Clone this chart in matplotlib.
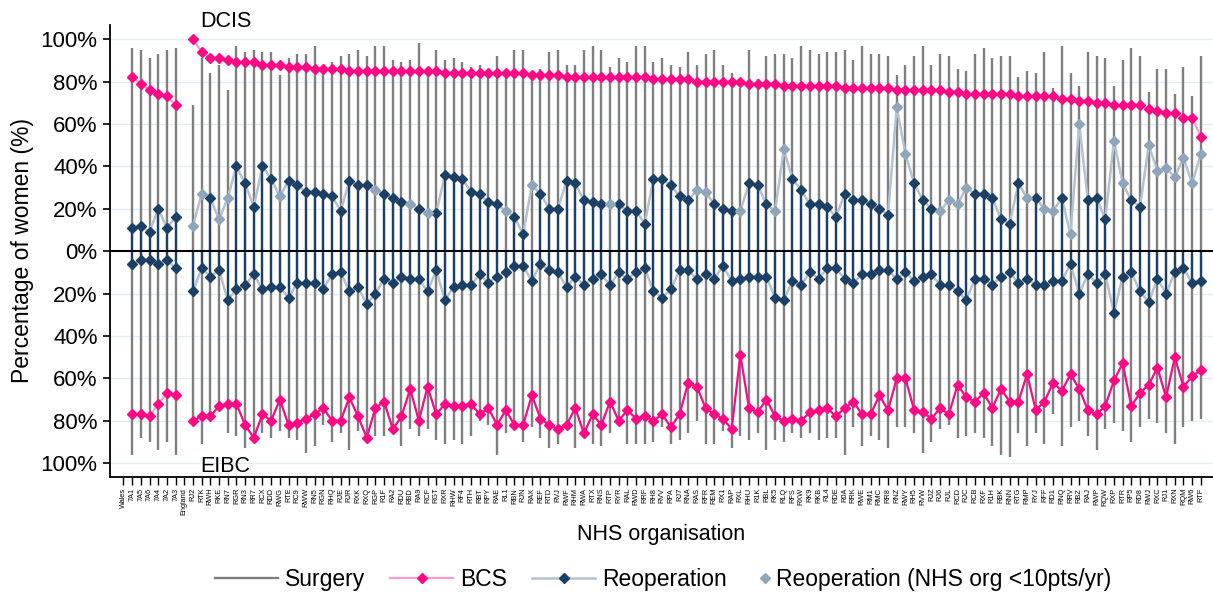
import numpy as np
import matplotlib
matplotlib.use("Agg")
import matplotlib.pyplot as plt
from matplotlib.lines import Line2D
from matplotlib.ticker import FuncFormatter

plt.rcParams['font.family'] = ['Liberation Sans', 'DejaVu Sans']

# x axis: header rows "Wales" / "England" carry no data
wales_orgs = ["7A1", "7A5", "7A6", "7A4", "7A2", "7A3"]
eng_orgs = ["RJ2", "RTK", "RWH", "RKE", "RN7", "RGR", "RN3", "RR7", "RCX", "RDD", "RWG", "RTE", "RC9",
            "RWW", "RN5", "RGN", "RHQ", "RJE", "RJR", "RXK", "RXQ", "RGP", "R1F", "RA2", "RDU", "RBD",
            "RA9", "RCF", "RGT", "RXR", "RHW", "RF4", "RTH", "RBT", "RPY", "RAE", "RL1", "RBN", "RJN",
            "RAX", "REF", "RTD", "RVJ", "RWF", "RHM", "RWA", "RTX", "RNS", "RTP", "RYR", "RAL", "RWD",
            "RRF", "RH8", "RVV", "RPA", "RJ7", "RNA", "RAS", "RFR", "REM", "RX1", "RAP", "RXL", "RHU",
            "R1K", "RBL", "RK5", "RLQ", "RFS", "RXW", "RK9", "RKB", "RL4", "RDE", "R0A", "RRK", "RWE",
            "RM1", "RMC", "RR8", "RNZ", "RWY", "RH5", "RVW", "RJZ", "RJ6", "RJL", "RCD", "RJC", "RCB",
            "RXF", "R1H", "RBK", "RNN", "RTG", "RMP", "RYJ", "RFF", "RD1", "RNQ", "RRV", "RBZ", "RAJ",
            "RWP", "RQW", "RXP", "RTR", "RP5", "RD8", "RWJ", "RXC", "RJ1", "RXN", "RQM", "RW6", "RTF"]

# ---- DCIS (upper half) ----
wales_surg_dcis = [96, 95, 91, 93, 95, 96]
wales_bcs_dcis = [82, 79, 76, 74, 73, 69]
wales_reop_dcis = [11, 12, 9, 20, 11, 16]

eng_surg_dcis = [69, 91, 84, 88, 76, 97, 94, 95, 94, 94, 83, 91, 93,
                 93, 97, 87, 89, 92, 93, 95, 92, 97, 97, 90, 89, 90, 98, 87, 95, 90, 91, 89, 87, 88,
                 86, 92, 85, 95, 95, 83, 86, 94, 95, 88, 88, 95, 97, 95, 87, 91, 89, 97, 97, 89, 91,
                 88, 87, 94, 88, 93, 95, 88, 84, 77, 95, 81, 92, 93, 93, 91, 97, 95, 93, 94, 94, 95,
                 90, 97, 93, 93, 92, 83, 88, 92, 97, 88, 93, 92, 86, 85, 93, 96, 91, 92, 92, 82,
                 85, 84, 94, 77, 97, 84, 78, 94, 92, 91, 78, 90, 96, 92, 75, 86, 86, 74, 87, 73, 92]
eng_bcs_dcis = [100, 94, 91, 91, 90, 89, 89, 89, 88, 88, 88, 87, 87,
                87, 86, 86, 86, 86, 85, 85, 85, 85, 85, 85, 85, 85, 85, 85, 85, 84, 84, 84, 84, 84,
                84, 84, 84, 84, 84, 83, 83, 83, 83, 82, 82, 82, 82, 82, 82, 82, 82, 82, 82, 81, 81,
                81, 81, 81, 80, 80, 80, 80, 80, 80, 79, 79, 79, 79, 78, 78, 78, 78, 78, 78, 78, 77,
                77, 77, 77, 77, 77, 76, 76, 76, 76, 76, 76, 75, 75, 74, 74, 74, 74, 74, 74, 73,
                73, 73, 73, 73, 72, 72, 71, 71, 70, 70, 69, 69, 69, 69, 67, 66, 65, 65, 63, 63, 54]
eng_reop_dcis = [12, 27, 25, 15, 25, 40, 32, 21, 40, 34, 26, 33, 31,
                 28, 28, 27, 26, 19, 33, 31, 31, 29, 27, 25, 23, 22, 20, 18, 18, 36, 35, 34, 28, 27,
                 23, 22, 19, 16, 8, 31, 27, 20, 20, 33, 32, 24, 23, 22, 22, 22, 19, 19, 13, 34, 34,
                 31, 26, 24, 29, 28, 22, 20, 19, 19, 32, 31, 22, 19, 48, 34, 29, 22, 22, 21, 16, 27,
                 24, 24, 22, 20, 17, 68, 46, 32, 24, 20, 19, 24, 22, 30, 27, 27, 25, 15, 13, 32,
                 25, 25, 20, 19, 25, 8, 60, 24, 25, 15, 52, 32, 24, 21, 50, 38, 39, 35, 44, 32, 46]
# 1 = org with >=10 patients/yr, 0 = <10 pts/yr
eng_reop_big = [0, 0, 1, 0, 0, 1, 1, 1, 1, 1, 0, 1, 1,
                1, 1, 1, 1, 1, 1, 1, 1, 0, 1, 1, 1, 0, 1, 0, 1, 1, 1, 1, 1, 1,
                1, 1, 0, 1, 1, 0, 1, 1, 1, 1, 1, 1, 1, 1, 0, 1, 1, 1, 1, 1, 1,
                1, 1, 1, 0, 0, 1, 1, 1, 0, 1, 1, 1, 0, 0, 1, 1, 1, 1, 1, 1, 1,
                1, 1, 1, 1, 1, 0, 0, 1, 1, 1, 0, 0, 0, 0, 1, 1, 1, 1, 1, 1,
                0, 1, 0, 0, 1, 0, 0, 1, 1, 1, 0, 0, 1, 1, 0, 0, 0, 0, 0, 0, 0]

# ---- EIBC (lower half) ----
wales_surg_eibc = [96, 88, 90, 94, 90, 96]
wales_bcs_eibc = [77, 77, 78, 72, 67, 68]
wales_reop_eibc = [6, 4, 4, 6, 4, 8]

eng_surg_eibc = [80, 91, 79, 72, 86, 87, 93, 89, 86, 88, 85, 88, 89,
                 95, 92, 82, 90, 86, 94, 85, 89, 87, 87, 86, 92, 84, 87, 84, 89, 91, 89, 91, 87, 80,
                 82, 96, 86, 84, 90, 83, 88, 93, 91, 84, 93, 86, 91, 92, 86, 81, 91, 91, 91, 90, 83,
                 91, 89, 86, 80, 91, 91, 85, 93, 87, 89, 86, 94, 89, 90, 86, 88, 86, 89, 88, 88, 96,
                 83, 92, 87, 89, 93, 83, 83, 86, 95, 90, 84, 82, 88, 87, 86, 88, 92, 96, 97, 86,
                 92, 86, 91, 77, 92, 83, 80, 87, 94, 84, 81, 85, 90, 83, 79, 81, 86, 91, 83, 80, 79]
eng_bcs_eibc = [80, 78, 78, 73, 72, 72, 82, 88, 77, 80, 70, 82, 81,
                79, 77, 74, 80, 80, 69, 78, 88, 74, 71, 84, 78, 65, 80, 64, 77, 72, 73, 73, 72, 77,
                74, 82, 75, 82, 82, 68, 79, 82, 84, 82, 74, 86, 77, 82, 71, 80, 75, 79, 78, 80, 77,
                83, 77, 62, 64, 74, 77, 79, 84, 49, 74, 76, 70, 78, 80, 79, 80, 76, 75, 74, 78, 74,
                71, 77, 77, 68, 75, 60, 60, 75, 76, 79, 74, 77, 63, 69, 71, 67, 74, 65, 71, 71,
                58, 75, 71, 62, 66, 58, 65, 75, 77, 73, 61, 53, 73, 67, 63, 55, 69, 50, 64, 59, 56]
eng_reop_eibc = [19, 8, 12, 9, 23, 18, 16, 11, 18, 17, 17, 22, 15,
                 15, 15, 18, 11, 10, 19, 17, 25, 20, 13, 15, 12, 13, 13, 19, 9, 23, 17, 16, 16, 11,
                 15, 12, 10, 7, 7, 14, 6, 9, 10, 17, 12, 16, 13, 11, 16, 10, 13, 10, 8, 19, 22,
                 18, 9, 9, 13, 11, 13, 7, 14, 13, 12, 12, 12, 22, 23, 14, 16, 10, 13, 8, 8, 13,
                 15, 11, 11, 9, 9, 13, 10, 14, 12, 11, 16, 16, 19, 23, 13, 13, 16, 12, 10, 15,
                 13, 16, 16, 14, 14, 6, 20, 11, 15, 11, 29, 12, 10, 19, 24, 13, 20, 10, 8, 15, 14]

GREY = '#7f7f7f'
PINK = '#ff0a84'
PINK_LIGHT = '#ff9ccb'
NAVY = '#1c3f66'
REOP_LINE = '#b4c2cf'
REOP_LIGHT = '#8fa5ba'

labels = ["Wales"] + wales_orgs + ["England"] + eng_orgs
wales_x = np.arange(1, 1 + len(wales_orgs))
eng_x = np.arange(len(wales_orgs) + 2, len(labels))

fig = plt.figure(figsize=(12.13, 5.94), dpi=100)
ax = fig.add_axes([0.0903, 0.1975, 0.9097, 0.7605])

for yv in [20, 40, 60, 80, 100]:
    ax.axhline(yv, color='#e4ecf1', lw=1, zorder=0)
    ax.axhline(-yv, color='#e4ecf1', lw=1, zorder=0)

groups = [
    (wales_x, wales_surg_dcis, wales_bcs_dcis, wales_reop_dcis, [1] * 6,
     wales_surg_eibc, wales_bcs_eibc, wales_reop_eibc, PINK_LIGHT),
    (eng_x, eng_surg_dcis, eng_bcs_dcis, eng_reop_dcis, eng_reop_big,
     eng_surg_eibc, eng_bcs_eibc, eng_reop_eibc, PINK),
]

for x, sd, bd, rd, big, se, be, re_, low_line in groups:
    sd, bd, rd, se, be, re_ = map(np.array, (sd, bd, rd, se, be, re_))
    big = np.array(big, dtype=bool)
    # surgery bars
    ax.vlines(x, -se, sd, color=GREY, lw=1.7, zorder=1)
    # reoperation lines + stems
    ax.plot(x, rd, color=REOP_LINE, lw=1.8, zorder=2)
    ax.plot(x, -re_, color=REOP_LINE, lw=1.8, zorder=2)
    ax.vlines(x[big], 0, rd[big], color=NAVY, lw=1.6, zorder=3)
    ax.vlines(x, 0, -re_, color=NAVY, lw=1.6, zorder=3)
    ax.plot(x[big], rd[big], 'D', color=NAVY, ms=5, zorder=4)
    ax.plot(x[~big], rd[~big], 'D', color=REOP_LIGHT, ms=5, zorder=4)
    ax.plot(x, -re_, 'D', color=NAVY, ms=5, zorder=4)
    # BCS
    ax.plot(x, bd, color=PINK_LIGHT, lw=1.6, zorder=2)
    ax.plot(x, -be, color=low_line, lw=1.6, zorder=2)
    ax.plot(x, bd, 'D', color=PINK, ms=5, zorder=5)
    ax.plot(x, -be, 'D', color=PINK, ms=5, zorder=5)

ax.axhline(0, color='black', lw=1.5, zorder=3)

ax.set_xlim(-1.6, 125.4)
ax.set_ylim(-106.4, 106.7)
ax.set_yticks(np.arange(-100, 101, 20))
ax.yaxis.set_major_formatter(FuncFormatter(lambda v, p: f"{abs(int(round(v)))}%"))
ax.tick_params(axis='y', labelsize=16, length=5, width=1.2)
ax.set_xticks(np.arange(len(labels)))
ax.set_xticklabels(labels, rotation=90, fontsize=5.3)
ax.tick_params(axis='x', length=6, width=1, pad=2)

for s in ['top', 'right']:
    ax.spines[s].set_visible(False)
for s in ['left', 'bottom']:
    ax.spines[s].set_linewidth(1.3)

ax.set_ylabel("Percentage of women (%)", fontsize=16.5, labelpad=5)
ax.set_xlabel("NHS organisation", fontsize=15.5, labelpad=7)

ax.text(8.8, 108.5, "DCIS", fontsize=15.5, va='center', ha='left', clip_on=False)
ax.text(8.8, -101.5, "EIBC", fontsize=15.5, va='center', ha='left', clip_on=False)

handles = [
    Line2D([], [], color=GREY, lw=1.7),
    Line2D([], [], color=PINK_LIGHT, lw=1.6, marker='D', mfc=PINK, mec=PINK, ms=5),
    Line2D([], [], color=REOP_LINE, lw=1.8, marker='D', mfc=NAVY, mec=NAVY, ms=5),
]
# two legends: the marker-only key sits tight against its label
fig.legend(handles, ["Surgery", "BCS", "Reoperation"],
           loc='center left', bbox_to_anchor=(0.177, 0.024), ncol=3, frameon=False,
           fontsize=16.5, handlelength=2.75, columnspacing=1.1, handletextpad=0.3,
           borderpad=0, borderaxespad=0)
fig.legend([Line2D([], [], ls='none', marker='D', mfc=REOP_LIGHT, mec=REOP_LIGHT, ms=5)],
           ["Reoperation (NHS org <10pts/yr)"],
           loc='center left', bbox_to_anchor=(0.623, 0.024), frameon=False,
           fontsize=16.5, handlelength=0.8, handletextpad=0.1, borderpad=0, borderaxespad=0)

fig.savefig("out.png", dpi=100)
